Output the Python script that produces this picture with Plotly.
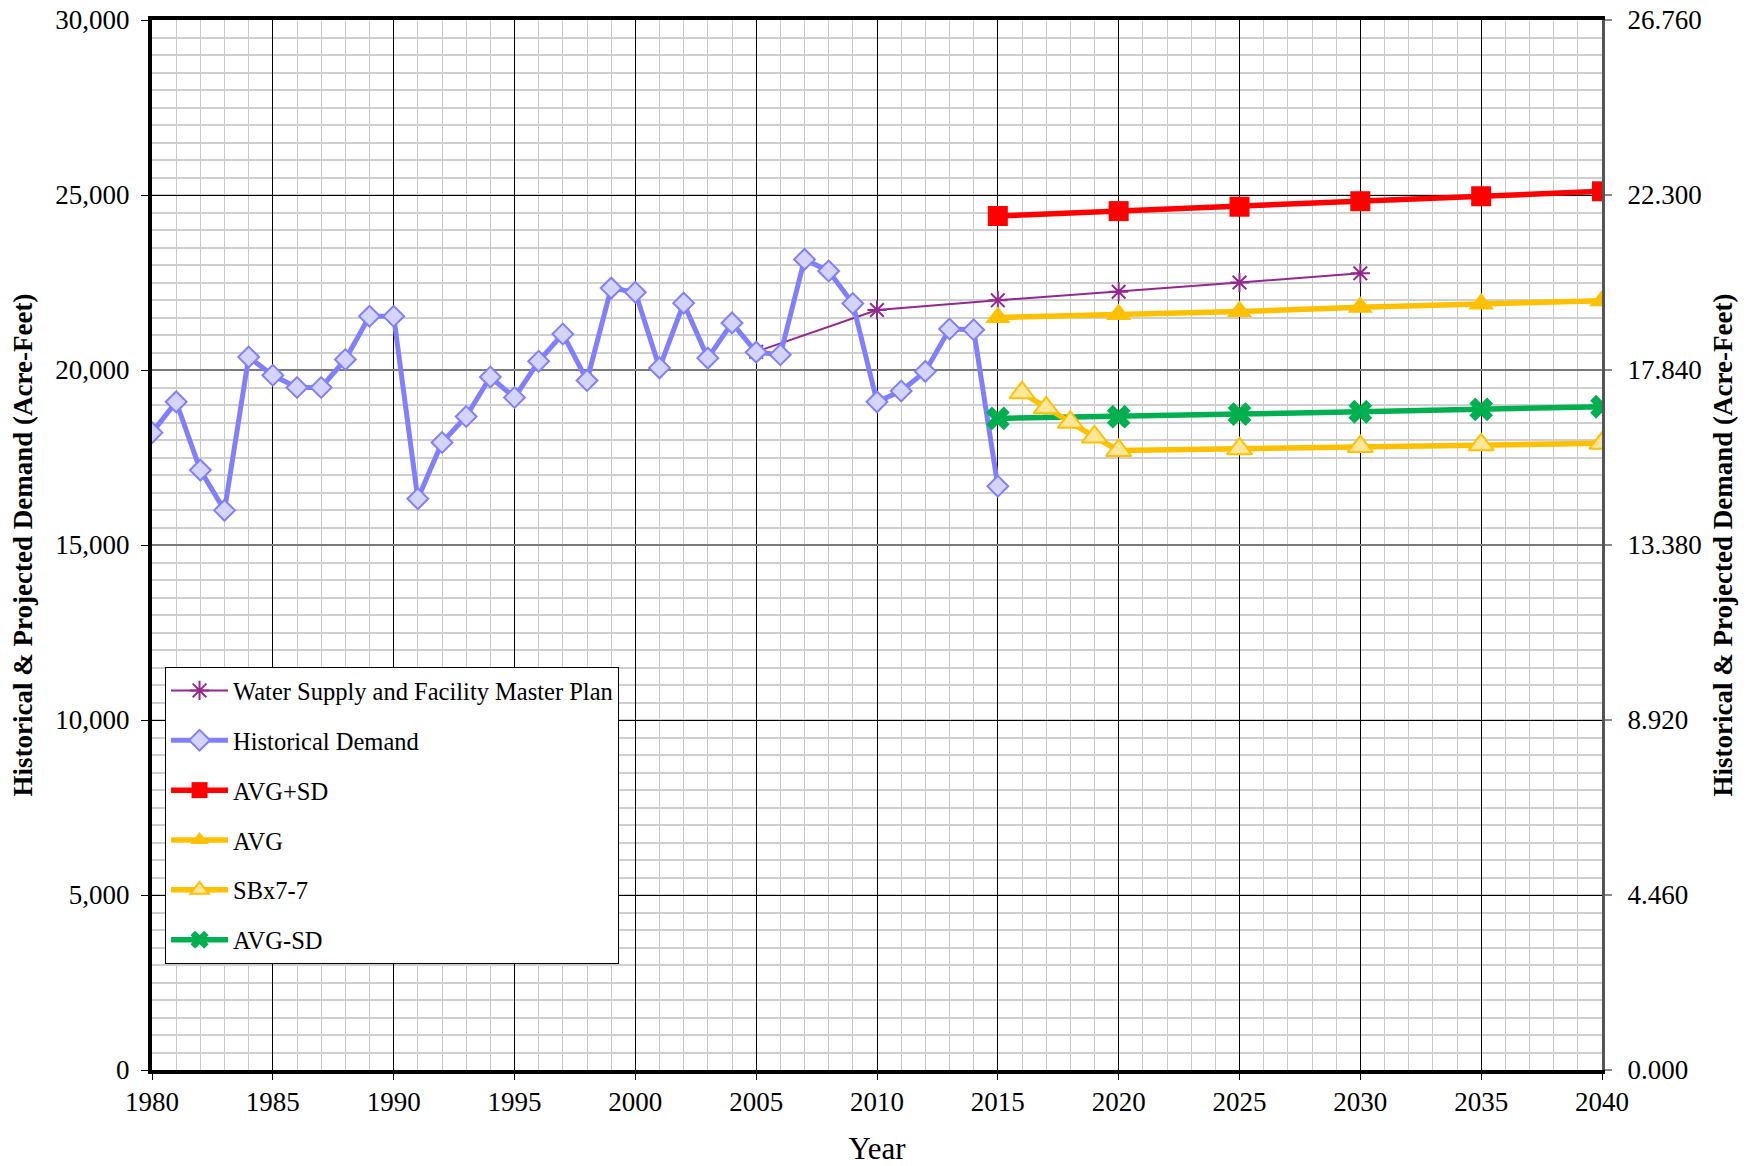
import plotly.graph_objects as go

# ---------------- data ----------------
hist_years = list(range(1980, 2016))
hist_demand = [18210, 19090, 17140, 15990, 20370, 19850, 19500, 19500, 20300, 21535,
               21535, 16320, 17930, 18670, 19800, 19215, 20250, 21030, 19700, 22340,
               22220, 20060, 21910, 20340, 21345, 20510, 20435, 23160, 22830, 21900,
               19090, 19400, 19960, 21170, 21150, 16680]

plan_years = [2005, 2010, 2015, 2020, 2025, 2030]
plan_demand = [20520, 21715, 21990, 22236, 22500, 22765]

proj_years = [2015, 2020, 2025, 2030, 2035, 2040]
avg_plus_sd = [24400, 24540, 24665, 24822, 24964, 25106]
avg = [21500, 21583, 21668, 21790, 21885, 21981]
avg_minus_sd = [18617, 18665, 18741, 18807, 18874, 18950]

sbx_years = [2016, 2017, 2018, 2019, 2020, 2025, 2030, 2035, 2040]
sbx_demand = [19350, 18921, 18504, 18088, 17700, 17748, 17813, 17861, 17907]

x_ticks = list(range(1980, 2041, 5))
y_ticks = list(range(0, 30001, 5000))
y_grid_dark = [5000, 10000, 25000]
y_grid_gray = [15000, 20000]
y2_ticks = [0.0, 4.46, 8.92, 13.38, 17.84, 22.30, 26.76]
y_title = "<b>Historical & Projected Demand (Acre-Feet)</b>"

FONT = "Liberation Serif, Times New Roman, serif"

fig = go.Figure()

fig.add_trace(go.Scatter(
    x=plan_years, y=plan_demand, mode="lines+markers",
    name="Water Supply and Facility Master Plan", legendgroup="a", legendrank=1,
    line=dict(color="#94288F", width=2),
    marker=dict(symbol="asterisk-open", size=16, color="#94288F",
                line=dict(color="#94288F", width=2)),
))
fig.add_trace(go.Scatter(
    x=hist_years, y=hist_demand, mode="lines+markers",
    name="Historical Demand", legendgroup="b", legendrank=2,
    line=dict(color="#8080FF", width=5),
    marker=dict(symbol="diamond", size=16, color="#D4D4FF",
                line=dict(color="#8080FF", width=2)),
))
fig.add_trace(go.Scatter(
    x=proj_years, y=avg_plus_sd, mode="lines+markers",
    name="AVG+SD", legendgroup="c", legendrank=3,
    line=dict(color="#FF0000", width=5.5),
    marker=dict(symbol="square", size=20, color="#FF0000"),
))
fig.add_trace(go.Scatter(
    x=proj_years, y=avg, mode="lines+markers",
    name="AVG", legendgroup="d", legendrank=4,
    line=dict(color="#FFC000", width=5.5),
    marker=dict(symbol="triangle-up", size=22, color="#FFC000"),
))
fig.add_trace(go.Scatter(
    x=proj_years, y=avg_minus_sd, mode="lines+markers",
    name="AVG-SD", legendgroup="f", legendrank=6,
    line=dict(color="#00B050", width=5.5),
    marker=dict(symbol="x", size=21, color="#00B050"),
))
fig.add_trace(go.Scatter(
    x=sbx_years, y=sbx_demand, mode="lines+markers",
    name="SBx7-7", legendgroup="e", legendrank=5,
    line=dict(color="#FFC000", width=5.5),
    marker=dict(symbol="triangle-up", size=22, color="#FFE699",
                line=dict(color="#FFC000", width=2)),
))
# empty helper traces so that the secondary axes (right scale, grid styling) are drawn
for ax in ("y2", "y3", "y4"):
    fig.add_trace(go.Scatter(x=[], y=[], yaxis=ax, showlegend=False, hoverinfo="skip"))

fig.update_layout(
    width=1744, height=1158,
    margin=dict(l=144, r=150, t=12, b=96, autoexpand=False),
    paper_bgcolor="white", plot_bgcolor="white",
    font=dict(family=FONT, size=27, color="black"),
    showlegend=True,
    legend=dict(
        x=0.009, y=0.3838, xanchor="left", yanchor="top",
        bgcolor="white", bordercolor="black", borderwidth=1,
        font=dict(family=FONT, size=24.5, color="black"),
        traceorder="grouped", tracegroupgap=15, itemwidth=57,
    ),
    xaxis=dict(
        range=[1980, 2040], tickvals=x_ticks, ticktext=[str(v) for v in x_ticks],
        showgrid=True, gridcolor="#000000", gridwidth=1,
        minor=dict(dtick=1, tick0=1980, showgrid=True, gridcolor="#C8C8C8", gridwidth=1),
        showline=True, linecolor="black", linewidth=4, mirror=True,
        ticks="outside", ticklen=6, tickcolor="black", tickwidth=1,
        ticklabelstandoff=-1, ticklabeloverflow="allow",
        zeroline=False, automargin=False,
        title=dict(text="Year", font=dict(family=FONT, size=31), standoff=22),
    ),
    yaxis=dict(
        range=[0, 30000], tickvals=y_ticks, tickformat=",d",
        showgrid=False,
        minor=dict(dtick=500, tick0=0, showgrid=True, gridcolor="#CFCFCF", gridwidth=1.5),
        showline=True, linecolor="black", linewidth=4, mirror=False,
        ticks="outside", ticklen=7, tickcolor="black", tickwidth=1,
        ticklabelstandoff=6, ticklabeloverflow="allow",
        zeroline=False, automargin=False,
        title=dict(text=y_title, font=dict(family=FONT, size=27), standoff=21),
    ),
    yaxis2=dict(
        overlaying="y", side="right", anchor="x",
        range=[0, 26.76], tickvals=y2_ticks, tickformat=".3f",
        showgrid=False, zeroline=False,
        showline=True, linecolor="#555555", linewidth=3,
        ticks="outside", ticklen=7, tickcolor="#888888", tickwidth=2,
        ticklabelstandoff=10, ticklabeloverflow="allow",
        automargin=False,
        title=dict(text=y_title, font=dict(family=FONT, size=27), standoff=13),
    ),
    yaxis3=dict(
        overlaying="y", side="left", anchor="x",
        range=[0, 30000], tickvals=y_grid_dark,
        showticklabels=False, ticks="", showline=False, zeroline=False,
        showgrid=True, gridcolor="#000000", gridwidth=1, automargin=False,
    ),
    yaxis4=dict(
        overlaying="y", side="left", anchor="x",
        range=[0, 30000], tickvals=y_grid_gray,
        showticklabels=False, ticks="", showline=False, zeroline=False,
        showgrid=True, gridcolor="#7A7A7A", gridwidth=2, automargin=False,
    ),
)

fig.write_html("out.html")
